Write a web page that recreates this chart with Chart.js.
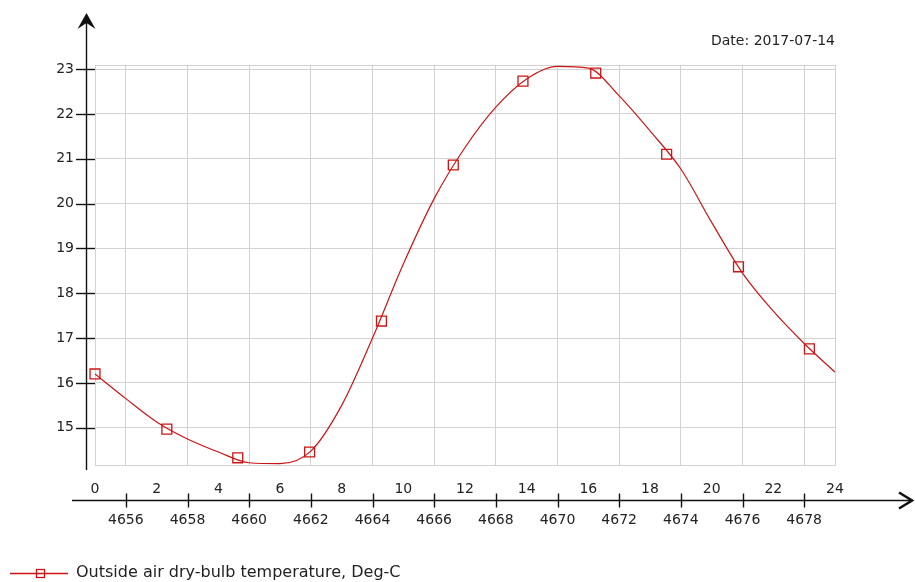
<!DOCTYPE html>
<html>
<head>
<meta charset="utf-8">
<title>Outside air temperature</title>
<script src="https://cdn.jsdelivr.net/npm/chart.js@4"></script>
<style>
  html, body { margin: 0; padding: 0; background: #fff; }
  #wrap { width: 915px; height: 582px; }
</style>
</head>
<body>
<div id="wrap"><canvas id="tempChart"></canvas></div>
<script>
// hourly dry-bulb temperature for the day (hour 0..24)
const hours = [0, 1, 2, 3, 4, 5, 6, 7, 8, 9, 10, 11, 12, 13, 14, 15, 16, 17, 18, 19, 20, 21, 22, 23, 24];
const temps = [16.2, 15.65, 15.13, 14.75, 14.46, 14.22, 14.2, 14.48, 15.5, 17.0, 18.65, 20.11, 21.25,
               22.15, 22.78, 23.06, 23.02, 22.4, 21.62, 20.77, 19.58, 18.45, 17.6, 16.88, 16.24];

// square markers along the curve
const markHours = [0, 2.33, 4.63, 6.96, 9.29, 11.62, 13.88, 16.24, 18.54, 20.87, 23.17];
const markTemps = [16.2, 14.97, 14.33, 14.46, 17.38, 20.86, 22.73, 22.91, 21.1, 18.59, 16.76];

// axis ticks
const tempTicks = [15, 16, 17, 18, 19, 20, 21, 22, 23];
const hourTicks = [0, 2, 4, 6, 8, 10, 12, 14, 16, 18, 20, 22, 24];
const yearHours = [4656, 4658, 4660, 4662, 4664, 4666, 4668, 4670, 4672, 4674, 4676, 4678];
const yearHourAtMidnight = 4655;

const dateText = 'Date: 2017-07-14';
const seriesName = 'Outside air dry-bulb temperature, Deg-C';

const red = '#cc1414';
const gridColor = '#d2d2d2';
const textColor = '#222';
const axisColor = '#111';
const family = "'DejaVu Sans', sans-serif";

// little line-with-square picture for the legend entry
function legendIcon() {
  const c = document.createElement('canvas');
  c.width = 58; c.height = 12;
  const g = c.getContext('2d');
  g.strokeStyle = red;
  g.lineWidth = 1.3;
  g.beginPath(); g.moveTo(0, 6.5); g.lineTo(58, 6.5); g.stroke();
  g.strokeRect(26.5, 2.5, 8, 8);
  return c;
}

// arrowed axis lines, tick marks and the plot frame
const axisArrows = {
  id: 'axisArrows',
  afterLayout(chart) {
    // push the legend down to the bottom edge
    chart.legend.top += 9;
    chart.legend.bottom += 9;
  },
  beforeDatasetsDraw(chart) {
    const { ctx, chartArea: a } = chart;
    ctx.save();
    ctx.strokeStyle = gridColor;
    ctx.lineWidth = 1;
    ctx.strokeRect(Math.round(a.left) + 0.5, Math.round(a.top) + 0.5,
      Math.round(a.right - a.left), Math.round(a.bottom - a.top));
    ctx.restore();
  },
  afterDraw(chart) {
    const { ctx, chartArea: a, scales } = chart;
    const ax = Math.round(a.left - 9) + 0.5;
    const ay = Math.round(scales.x.bottom - 2) + 0.5;
    ctx.save();
    ctx.strokeStyle = axisColor;
    ctx.fillStyle = axisColor;
    ctx.lineWidth = 1.4;

    // vertical axis
    ctx.beginPath();
    ctx.moveTo(ax, a.bottom + 5);
    ctx.lineTo(ax, 22);
    ctx.stroke();
    ctx.beginPath();
    ctx.moveTo(ax, 13);
    ctx.lineTo(ax - 9, 29);
    ctx.lineTo(ax, 23);
    ctx.lineTo(ax + 9, 29);
    ctx.closePath();
    ctx.fill();

    // horizontal axis
    ctx.beginPath();
    ctx.moveTo(72, ay);
    ctx.lineTo(910, ay);
    ctx.stroke();
    ctx.lineWidth = 2.6;
    ctx.beginPath();
    ctx.moveTo(899, ay - 8);
    ctx.lineTo(912, ay);
    ctx.lineTo(899, ay + 8);
    ctx.stroke();

    // tick marks
    ctx.lineWidth = 1.4;
    scales.xh.ticks.forEach(t => {
      const px = Math.round(scales.xh.getPixelForValue(t.value)) + 0.5;
      ctx.beginPath();
      ctx.moveTo(px, ay - 7);
      ctx.lineTo(px, ay + 7);
      ctx.stroke();
    });
    scales.y.ticks.forEach(t => {
      const py = Math.round(scales.y.getPixelForValue(t.value)) + 0.5;
      ctx.beginPath();
      ctx.moveTo(76, py);
      ctx.lineTo(a.left, py);
      ctx.stroke();
    });
    ctx.restore();
  }
};

const tickFont = { family, size: 14 };

new Chart(document.getElementById('tempChart'), {
  type: 'line',
  data: {
    datasets: [{
      label: seriesName,
      data: hours.map((h, i) => ({ x: h, y: temps[i] })),
      borderColor: red,
      borderWidth: 1.2,
      pointRadius: 0,
      pointStyle: legendIcon(),
      cubicInterpolationMode: 'monotone',
      fill: false
    }, {
      label: 'markers',
      data: markHours.map((h, i) => ({ x: h, y: markTemps[i] })),
      showLine: false,
      clip: false,
      pointStyle: 'rect',
      pointRadius: 7,
      pointBorderWidth: 1.3,
      borderColor: red,
      backgroundColor: 'rgba(0,0,0,0)'
    }]
  },
  options: {
    responsive: true,
    maintainAspectRatio: false,
    animation: false,
    devicePixelRatio: 1,
    layout: { padding: { left: 0, right: 80, top: 0, bottom: 0 } },
    plugins: {
      tooltip: { enabled: false },
      title: {
        display: true,
        text: dateText,
        align: 'end',
        color: textColor,
        font: { family, size: 14, weight: 'normal' },
        padding: { top: 33, bottom: 15.2 }
      },
      legend: {
        position: 'bottom',
        align: 'start',
        labels: {
          usePointStyle: true,
          pointStyleWidth: 58,
          padding: 10,
          color: textColor,
          font: { family, size: 16 },
          filter: item => item.datasetIndex === 0
        }
      }
    },
    scales: {
      x: {
        type: 'linear', position: 'bottom', min: 0, max: 24, weight: 1,
        afterBuildTicks: s => { s.ticks = hourTicks.map(v => ({ value: v })); },
        afterFit: s => { s.height = 37; },
        grid: { display: false, drawTicks: false },
        border: { display: false },
        ticks: { padding: 16, color: textColor, font: tickFont, autoSkip: false, maxRotation: 0 }
      },
      xh: {
        type: 'linear', position: 'bottom', min: 0, max: 24, weight: 2,
        afterBuildTicks: s => { s.ticks = yearHours.map(v => ({ value: v - yearHourAtMidnight })); },
        afterFit: s => { s.height = 44; },
        grid: { color: gridColor, drawTicks: false },
        border: { display: false },
        ticks: {
          padding: 10, color: textColor, font: tickFont, autoSkip: false, maxRotation: 0,
          callback: v => String(v + yearHourAtMidnight)
        }
      },
      y: {
        type: 'linear', min: 14.17, max: 23.09,
        afterBuildTicks: s => { s.ticks = tempTicks.map(v => ({ value: v })); },
        afterFit: s => { s.width = 95; },
        grid: { color: gridColor, drawTicks: false },
        border: { display: false },
        ticks: { padding: 21, color: textColor, font: tickFont }
      }
    }
  },
  plugins: [axisArrows]
});
</script>
</body>
</html>
